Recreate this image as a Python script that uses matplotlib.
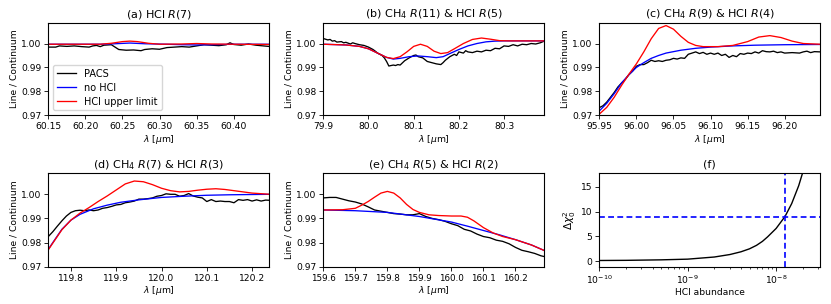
import numpy as np
import matplotlib
matplotlib.use("Agg")
import matplotlib.pyplot as plt

# ---------------- data ----------------
# (a) HCl R(7)
a_pacs_x = [60.150, 60.160, 60.165, 60.175, 60.185, 60.195, 60.205, 60.210, 60.215, 60.220, 60.225, 60.235,
            60.240, 60.245, 60.255, 60.265, 60.275, 60.280, 60.290, 60.300, 60.310, 60.320, 60.330, 60.340,
            60.350, 60.360, 60.370, 60.380, 60.390, 60.395, 60.400, 60.410, 60.420, 60.430, 60.440, 60.447]
a_pacs_y = [0.9985, 0.9985, 0.9990, 0.9988, 0.9990, 0.9987, 0.9985, 0.9990, 0.9992, 0.9987, 0.9993, 0.9995,
            0.9985, 0.9975, 0.9972, 0.9973, 0.9970, 0.9975, 0.9978, 0.9976, 0.9983, 0.9985, 0.9987, 0.9985,
            0.9990, 0.9995, 0.9993, 0.9991, 0.9995, 1.0003, 0.9996, 0.9993, 0.9998, 0.9993, 0.9990, 0.9988]
a_nohcl_x = [60.15, 60.22, 60.24, 60.26, 60.28, 60.31, 60.33, 60.35, 60.37, 60.40, 60.447]
a_nohcl_y = [0.9997, 0.9997, 0.9999, 1.0002, 0.9999, 0.9997, 0.9995, 0.9994, 0.9995, 0.9997, 0.9997]
a_hcl_x = [60.15, 60.22, 60.235, 60.25, 60.26, 60.27, 60.285, 60.30, 60.33, 60.35, 60.37, 60.40, 60.447]
a_hcl_y = [0.9997, 0.9997, 1.0001, 1.0008, 1.0010, 1.0008, 1.0001, 0.9997, 0.9998, 1.0000, 0.9998, 0.9997, 0.9996]

# (b) CH4 R(11) & HCl R(5)
b_pacs_x = [79.900, 79.905, 79.910, 79.915, 79.920, 79.925, 79.930, 79.940, 79.945, 79.950, 79.960, 79.965,
            79.970, 79.980, 79.990, 80.000, 80.010, 80.015, 80.020, 80.030, 80.035, 80.040, 80.045, 80.050,
            80.055, 80.060, 80.065, 80.070, 80.080, 80.090, 80.100, 80.105, 80.110, 80.120, 80.130, 80.140,
            80.150, 80.160, 80.165, 80.170, 80.180, 80.190, 80.195, 80.200, 80.210, 80.215, 80.220, 80.230,
            80.240, 80.250, 80.260, 80.270, 80.280, 80.290, 80.300, 80.310, 80.320, 80.330, 80.340, 80.350,
            80.360, 80.370, 80.380, 80.389]
b_pacs_y = [1.0021, 1.0018, 1.0015, 1.0017, 1.0010, 1.0012, 1.0006, 1.0008, 1.0003, 1.0005, 0.9998, 1.0003,
            1.0000, 0.9995, 0.9992, 0.9985, 0.9975, 0.9968, 0.9960, 0.9950, 0.9940, 0.9925, 0.9906, 0.9908,
            0.9910, 0.9908, 0.9912, 0.9910, 0.9928, 0.9940, 0.9950, 0.9952, 0.9945, 0.9940, 0.9925, 0.9920,
            0.9915, 0.9912, 0.9920, 0.9930, 0.9945, 0.9955, 0.9950, 0.9965, 0.9960, 0.9970, 0.9965, 0.9962,
            0.9968, 0.9965, 0.9972, 0.9970, 0.9980, 0.9978, 0.9990, 0.9988, 0.9995, 0.9990, 0.9997, 0.9995,
            1.0000, 0.9998, 1.0003, 1.0010]
b_nohcl_x = [79.90, 79.95, 79.98, 80.00, 80.02, 80.04, 80.055, 80.07, 80.09, 80.11, 80.13, 80.15, 80.165,
             80.18, 80.20, 80.22, 80.24, 80.26, 80.28, 80.30, 80.389]
b_nohcl_y = [0.9997, 0.9994, 0.9988, 0.9978, 0.9960, 0.9942, 0.9935, 0.9938, 0.9945, 0.9948, 0.9945, 0.9941,
             0.9945, 0.9958, 0.9975, 0.9990, 1.0000, 1.0007, 1.0010, 1.0011, 1.0011]
b_hcl_x = [79.90, 79.95, 79.98, 80.00, 80.02, 80.04, 80.055, 80.07, 80.085, 80.10, 80.115, 80.13, 80.145,
           80.16, 80.175, 80.19, 80.21, 80.23, 80.25, 80.27, 80.29, 80.31, 80.389]
b_hcl_y = [0.9997, 0.9994, 0.9988, 0.9978, 0.9960, 0.9942, 0.9937, 0.9945, 0.9965, 0.9988, 0.9997, 0.9988,
           0.9968, 0.9958, 0.9962, 0.9978, 1.0000, 1.0017, 1.0023, 1.0018, 1.0012, 1.0011, 1.0011]

# (c) CH4 R(9) & HCl R(4)
c_pacs_x = [95.950, 95.955, 95.960, 95.965, 95.970, 95.975, 95.980, 95.985, 95.990, 95.995, 96.000, 96.005,
            96.010, 96.015, 96.020, 96.025, 96.030, 96.035, 96.040, 96.045, 96.050, 96.055, 96.060, 96.065,
            96.070, 96.075, 96.080, 96.085, 96.090, 96.095, 96.100, 96.105, 96.110, 96.115, 96.120, 96.125,
            96.130, 96.135, 96.140, 96.145, 96.150, 96.155, 96.160, 96.165, 96.170, 96.175, 96.180, 96.185,
            96.190, 96.195, 96.200, 96.210, 96.220, 96.225, 96.230, 96.235, 96.240, 96.248]
c_pacs_y = [0.9732, 0.9740, 0.9755, 0.9775, 0.9795, 0.9818, 0.9835, 0.9850, 0.9870, 0.9885, 0.9905, 0.9912,
            0.9912, 0.9920, 0.9930, 0.9925, 0.9928, 0.9925, 0.9930, 0.9932, 0.9938, 0.9935, 0.9940, 0.9938,
            0.9955, 0.9960, 0.9965, 0.9958, 0.9963, 0.9955, 0.9960, 0.9955, 0.9960, 0.9950, 0.9955, 0.9942,
            0.9950, 0.9945, 0.9958, 0.9955, 0.9960, 0.9958, 0.9965, 0.9960, 0.9970, 0.9966, 0.9965, 0.9968,
            0.9962, 0.9965, 0.9960, 0.9962, 0.9960, 0.9965, 0.9968, 0.9962, 0.9966, 0.9965]
c_nohcl_x = [95.95, 95.96, 95.97, 95.98, 95.99, 96.00, 96.01, 96.02, 96.03, 96.04, 96.05, 96.06, 96.08,
             96.10, 96.13, 96.16, 96.20, 96.248]
c_nohcl_y = [0.9718, 0.9750, 0.9790, 0.9835, 0.9870, 0.9900, 0.9920, 0.9938, 0.9950, 0.9960, 0.9966, 0.9972,
             0.9980, 0.9985, 0.9990, 0.9993, 0.9995, 0.9996]
c_hcl_x = [95.95, 95.96, 95.97, 95.98, 95.99, 96.00, 96.01, 96.02, 96.03, 96.04, 96.05, 96.06, 96.07, 96.08,
           96.09, 96.11, 96.13, 96.15, 96.165, 96.18, 96.195, 96.21, 96.225, 96.248]
c_hcl_y = [0.9705, 0.9733, 0.9775, 0.9825, 0.9872, 0.9915, 0.9965, 1.0020, 1.0063, 1.0075, 1.0060, 1.0030,
           1.0005, 0.9992, 0.9987, 0.9987, 0.9992, 1.0008, 1.0027, 1.0033, 1.0025, 1.0010, 1.0000, 0.9997]

# (d) CH4 R(7) & HCl R(3)
d_pacs_x = [119.750, 119.760, 119.770, 119.780, 119.790, 119.800, 119.810, 119.820, 119.830, 119.840,
            119.850, 119.860, 119.870, 119.880, 119.890, 119.900, 119.910, 119.920, 119.930, 119.940,
            119.950, 119.960, 119.970, 119.980, 119.990, 120.000, 120.010, 120.020, 120.030, 120.040,
            120.050, 120.060, 120.070, 120.080, 120.090, 120.100, 120.110, 120.120, 120.130, 120.140,
            120.150, 120.160, 120.170, 120.180, 120.190, 120.200, 120.210, 120.220, 120.230, 120.240]
d_pacs_y = [0.9825, 0.9845, 0.9868, 0.9890, 0.9910, 0.9925, 0.9932, 0.9934, 0.9932, 0.9935,
            0.9932, 0.9935, 0.9942, 0.9945, 0.9950, 0.9956, 0.9958, 0.9965, 0.9968, 0.9972,
            0.9980, 0.9980, 0.9982, 0.9985, 0.9992, 0.9995, 1.0002, 1.0000, 1.0000, 0.9992,
            0.9995, 1.0003, 0.9993, 0.9988, 0.9985, 0.9970, 0.9978, 0.9970, 0.9972, 0.9970,
            0.9970, 0.9965, 0.9978, 0.9975, 0.9978, 0.9972, 0.9977, 0.9972, 0.9976, 0.9975]
d_nohcl_x = [119.75, 119.76, 119.78, 119.80, 119.82, 119.85, 119.88, 119.91, 119.95, 120.00, 120.05, 120.10,
             120.15, 120.24]
d_nohcl_y = [0.9772, 0.9800, 0.9855, 0.9893, 0.9917, 0.9940, 0.9955, 0.9967, 0.9977, 0.9987, 0.9992, 0.9996,
             0.9998, 1.0000]
d_hcl_x = [119.75, 119.76, 119.78, 119.80, 119.82, 119.84, 119.86, 119.88, 119.90, 119.92, 119.94, 119.96,
           119.98, 120.00, 120.02, 120.04, 120.06, 120.08, 120.10, 120.12, 120.14, 120.16, 120.18, 120.20,
           120.24]
d_hcl_y = [0.9770, 0.9798, 0.9853, 0.9893, 0.9922, 0.9945, 0.9970, 0.9993, 1.0018, 1.0043, 1.0055, 1.0052,
           1.0040, 1.0025, 1.0015, 1.0010, 1.0012, 1.0017, 1.0021, 1.0023, 1.0020, 1.0015, 1.0010, 1.0005,
           1.0000]

# (e) CH4 R(5) & HCl R(2)
e_pacs_x = [159.60, 159.62, 159.64, 159.66, 159.68, 159.70, 159.72, 159.74, 159.76, 159.78, 159.80, 159.82,
            159.84, 159.86, 159.88, 159.90, 159.92, 159.94, 159.96, 159.98, 160.00, 160.02, 160.04, 160.06,
            160.08, 160.10, 160.12, 160.14, 160.16, 160.18, 160.20, 160.22, 160.24, 160.26, 160.28, 160.29]
e_pacs_y = [0.9985, 0.9987, 0.9987, 0.9980, 0.9973, 0.9968, 0.9960, 0.9948, 0.9935, 0.9930, 0.9925, 0.9920,
            0.9918, 0.9915, 0.9915, 0.9920, 0.9908, 0.9900, 0.9895, 0.9888, 0.9878, 0.9870, 0.9855, 0.9848,
            0.9835, 0.9825, 0.9820, 0.9810, 0.9805, 0.9795, 0.9780, 0.9768, 0.9762, 0.9755, 0.9745, 0.9742]
e_nohcl_x = [159.60, 159.70, 159.80, 159.90, 160.00, 160.05, 160.10, 160.15, 160.20, 160.25, 160.29]
e_nohcl_y = [0.9935, 0.9932, 0.9925, 0.9908, 0.9885, 0.9868, 0.9850, 0.9832, 0.9812, 0.9790, 0.9767]
e_hcl_x = [159.60, 159.66, 159.70, 159.72, 159.74, 159.76, 159.78, 159.80, 159.82, 159.84, 159.86, 159.88,
           159.90, 159.93, 159.96, 160.00, 160.03, 160.05, 160.07, 160.10, 160.13, 160.16, 160.20, 160.25,
           160.29]
e_hcl_y = [0.9935, 0.9936, 0.9942, 0.9955, 0.9970, 0.9988, 1.0005, 1.0012, 1.0005, 0.9985, 0.9958, 0.9937,
           0.9925, 0.9915, 0.9912, 0.9910, 0.9910, 0.9905, 0.9890, 0.9862, 0.9840, 0.9825, 0.9812, 0.9790,
           0.9767]

# (f) Delta chi^2 vs HCl abundance
f_abund = [1e-10, 2e-10, 5e-10, 1e-9, 2e-9, 3e-9, 4e-9, 5e-9, 6e-9, 7e-9, 8e-9, 1e-8, 1.26e-8, 1.5e-8,
           1.8e-8, 2.05e-8]
f_dchi2 = [0.15, 0.18, 0.28, 0.42, 0.85, 1.35, 1.9, 2.5, 3.2, 4.0, 4.9, 6.6, 9.0, 11.6, 15.2, 18.5]
f_limit_abund = 1.26e-8
f_limit_dchi2 = 9.0

titles = ["(a) HCl $R$(7)", "(b) CH$_4$ $R$(11) & HCl $R$(5)", "(c) CH$_4$ $R$(9) & HCl $R$(4)",
          "(d) CH$_4$ $R$(7) & HCl $R$(3)", "(e) CH$_4$ $R$(5) & HCl $R$(2)", "(f)"]
xlims = [(60.15, 60.448), (79.9, 80.389), (95.95, 96.248), (119.75, 120.238), (159.6, 160.29)]
spectra = [
    (a_pacs_x, a_pacs_y, a_nohcl_x, a_nohcl_y, a_hcl_x, a_hcl_y),
    (b_pacs_x, b_pacs_y, b_nohcl_x, b_nohcl_y, b_hcl_x, b_hcl_y),
    (c_pacs_x, c_pacs_y, c_nohcl_x, c_nohcl_y, c_hcl_x, c_hcl_y),
    (d_pacs_x, d_pacs_y, d_nohcl_x, d_nohcl_y, d_hcl_x, d_hcl_y),
    (e_pacs_x, e_pacs_y, e_nohcl_x, e_nohcl_y, e_hcl_x, e_hcl_y),
]

# ---------------- layout ----------------
W, H = 831, 304
plt.rcParams['font.family'] = ['DejaVu Sans']
plt.rcParams['font.size'] = 6.6
plt.rcParams['axes.titlesize'] = 8
plt.rcParams['axes.linewidth'] = 0.8
plt.rcParams['xtick.major.size'] = 2.6
plt.rcParams['ytick.major.size'] = 2.6
plt.rcParams['xtick.major.width'] = 0.6
plt.rcParams['ytick.major.width'] = 0.6
plt.rcParams['xtick.major.pad'] = 2.5
plt.rcParams['ytick.major.pad'] = 2.5

fig = plt.figure(figsize=(W / 100, H / 100), dpi=100)

cols = [(48.3, 269.3), (323.3, 544.3), (599.3, 820.3)]
rows = [(22.7, 115.3), (173.3, 266.7)]

axes = []
for r in range(2):
    for c in range(3):
        l, rr = cols[c]
        t, b = rows[r]
        ax = fig.add_axes([l / W, 1 - b / H, (rr - l) / W, (b - t) / H])
        axes.append(ax)

lw = 0.95
for i, ax in enumerate(axes[:5]):
    px, py, nx, ny, hx, hy = spectra[i]
    ax.plot(px, py, color='black', lw=lw, label='PACS')
    ax.plot(nx, ny, color='blue', lw=lw, label='no HCl')
    ax.plot(hx, hy, color='red', lw=lw, label='HCl upper limit')
    ax.set_xlim(*xlims[i])
    ax.set_ylim(0.97, 1.0087)
    ax.set_yticks([0.97, 0.98, 0.99, 1.00])
    ax.set_yticklabels(['0.97', '0.98', '0.99', '1.00'])
    ax.set_title(titles[i], pad=4)
    ax.set_xlabel(r'$\lambda$ [$\mu$m]', labelpad=1)
    ax.set_ylabel('Line / Continuum', labelpad=2)

axes[0].set_xticks([60.15, 60.20, 60.25, 60.30, 60.35, 60.40])
axes[0].set_xticklabels(['60.15', '60.20', '60.25', '60.30', '60.35', '60.40'])
axes[1].set_xticks([79.9, 80.0, 80.1, 80.2, 80.3])
axes[1].set_xticklabels(['79.9', '80.0', '80.1', '80.2', '80.3'])
axes[2].set_xticks([95.95, 96.00, 96.05, 96.10, 96.15, 96.20])
axes[2].set_xticklabels(['95.95', '96.00', '96.05', '96.10', '96.15', '96.20'])
axes[3].set_xticks([119.8, 119.9, 120.0, 120.1, 120.2])
axes[3].set_xticklabels(['119.8', '119.9', '120.0', '120.1', '120.2'])
axes[4].set_xticks([159.6, 159.7, 159.8, 159.9, 160.0, 160.1, 160.2])
axes[4].set_xticklabels(['159.6', '159.7', '159.8', '159.9', '160.0', '160.1', '160.2'], fontsize=6.3)

axes[0].legend(loc='lower left', fontsize=7.0, frameon=True, handlelength=2.0,
               borderpad=0.4, labelspacing=0.4, handletextpad=0.8, bbox_to_anchor=(0.0, 0.0))

axf = axes[5]
axf.plot(f_abund, f_dchi2, color='black', lw=1.0)
axf.axhline(f_limit_dchi2, color='blue', ls='--', lw=1.2, dashes=(3.5, 2))
axf.axvline(f_limit_abund, color='blue', ls='--', lw=1.2, dashes=(3.5, 2))
axf.set_xscale('log')
axf.set_xlim(1e-10, 3.16e-8)
axf.set_ylim(-1.1, 17.7)
axf.set_yticks([0, 5, 10, 15])
axf.set_title(titles[5], pad=4)
axf.set_xlabel('HCl abundance', labelpad=1)
axf.set_ylabel(r'$\Delta\chi^2_0$', labelpad=2, fontsize=7.5)
axf.tick_params(which='minor', length=1.6, width=0.5)

fig.savefig('out.png', dpi=100)
